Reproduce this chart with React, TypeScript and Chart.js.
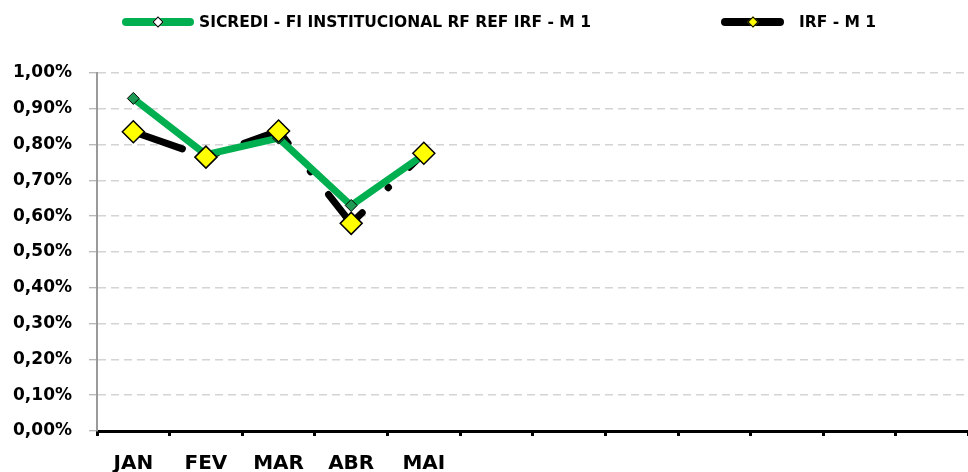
import React, { useEffect, useRef } from "react";
import { Chart, registerables } from "chart.js";

Chart.register(...registerables);

const months = ["JAN", "FEV", "MAR", "ABR", "MAI", "", "", "", "", "", "", ""];
const sicredi = [0.929, 0.772, 0.818, 0.63, 0.772, null, null, null, null, null, null, null];
const irf = [0.836, 0.765, 0.838, 0.58, 0.776, null, null, null, null, null, null, null];
const yTicks = [0, 0.1, 0.2, 0.3, 0.4, 0.5, 0.6, 0.7, 0.8, 0.9, 1.0];
const seriesNames = ["SICREDI - FI INSTITUCIONAL RF REF IRF - M 1", "IRF - M 1"];

const FONT = "'DejaVu Sans', sans-serif";

function fmtPct(v: number) {
  return v.toFixed(2).replace(".", ",") + "%";
}

export default function App() {
  const ref = useRef<HTMLCanvasElement | null>(null);
  useEffect(() => {
    if (!ref.current) return;
    const chart = new Chart(ref.current, {
      type: "line",
      data: {
        labels: months,
        datasets: [
          {
            label: seriesNames[1] + " line",
            data: irf,
            borderColor: "#000000",
            borderWidth: 7,
            borderDash: [52, 36, 0.5, 29],
            borderCapStyle: "round",
            pointRadius: 0,
            tension: 0,
            order: 3,
          },
          {
            label: seriesNames[0],
            data: sicredi,
            borderColor: "#00b050",
            borderWidth: 7,
            pointStyle: "rectRot",
            pointRadius: 6,
            pointBackgroundColor: "#1f9a55",
            pointBorderColor: "#000000",
            pointBorderWidth: 1,
            tension: 0,
            order: 2,
          },
          {
            label: seriesNames[1],
            data: irf,
            showLine: false,
            pointStyle: "rectRot",
            pointRadius: 11,
            pointBackgroundColor: "#ffff00",
            pointBorderColor: "#000000",
            pointBorderWidth: 1.5,
            order: 1,
          },
        ],
      },
      options: {
        animation: false,
        responsive: false,
        maintainAspectRatio: false,
        layout: { padding: { top: 73, left: 0, right: 0, bottom: 0 } },
        plugins: { legend: { display: false }, tooltip: { enabled: false } },
        scales: {
          x: {
            type: "category",
            offset: true,
            afterFit: (s: any) => {
              s.height = 41;
            },
            grid: {
              offset: true,
              drawOnChartArea: false,
              drawTicks: true,
              tickLength: 5,
              tickColor: "#000000",
              tickWidth: 3,
            },
            border: { display: true, color: "#000000", width: 3 },
            ticks: {
              color: "#000000",
              font: { family: FONT, size: 20, weight: "bold" },
              padding: 16,
              maxRotation: 0,
              autoSkip: false,
            },
          },
          y: {
            min: 0,
            max: 1,
            afterFit: (s: any) => {
              s.width = 97;
            },
            afterBuildTicks: (s: any) => {
              s.ticks = yTicks.map((v) => ({ value: v }));
            },
            grid: {
              color: "#d4d4d4",
              lineWidth: 1.5,
              drawTicks: true,
              tickLength: 8,
              tickColor: "#a0a0a0",
              tickWidth: 1,
            },
            border: { display: true, color: "#9a9a9a", width: 2, dash: [8, 5] },
            ticks: {
              color: "#000000",
              font: { family: FONT, size: 17, weight: "bold" },
              padding: 17,
              callback: (v: any) => fmtPct(Number(v)),
            },
          },
        },
      },
    });
    return () => chart.destroy();
  }, []);

  const legendText: React.CSSProperties = {
    fontFamily: FONT,
    fontWeight: "bold",
    fontSize: 15.5,
    color: "#000",
    whiteSpace: "nowrap",
    lineHeight: "18px",
  };
  const diamond = (fill: string, size: number): React.CSSProperties => ({
    position: "absolute",
    left: "50%",
    top: "50%",
    width: size,
    height: size,
    marginLeft: -size / 2,
    marginTop: -size / 2,
    background: fill,
    border: "1.5px solid #000",
    transform: "rotate(45deg)",
    boxSizing: "border-box",
  });

  return (
    <div style={{ position: "fixed", left: 0, top: 0, width: 968, height: 472, overflow: "hidden", background: "#fff" }}>
      <canvas ref={ref} width={981} height={472} style={{ position: "absolute", left: 0, top: 0 }} />
      <div style={{ position: "absolute", left: 122, top: 13, height: 18, display: "flex", alignItems: "center" }}>
        <div style={{ position: "relative", width: 72, height: 8, borderRadius: 4, background: "#00b050" }}>
          <div style={diamond("#ffffff", 8)} />
        </div>
        <span style={{ ...legendText, marginLeft: 5 }}>{seriesNames[0]}</span>
      </div>
      <div style={{ position: "absolute", left: 721, top: 13, height: 18, display: "flex", alignItems: "center" }}>
        <div style={{ position: "relative", width: 63, height: 8, borderRadius: 4, background: "#000000" }}>
          <div style={diamond("#ffff00", 8)} />
        </div>
        <span style={{ ...legendText, marginLeft: 15 }}>{seriesNames[1]}</span>
      </div>
    </div>
  );
}
